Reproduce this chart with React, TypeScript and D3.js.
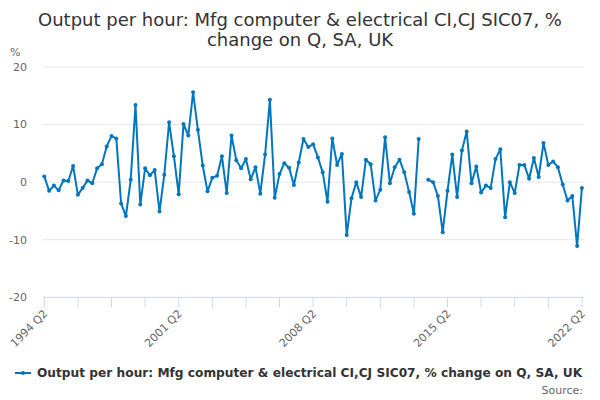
import React from "react";
import * as d3 from "d3";

const TITLE_LINES = ["Output per hour: Mfg computer & electrical CI,CJ SIC07, %", "change on Q, SA, UK"];
const SERIES_NAME = "Output per hour: Mfg computer & electrical CI,CJ SIC07, % change on Q, SA, UK";
const START_YEAR = 1994;
const START_QUARTER = 2;

const values: (number | null)[] = [
  1.0, -1.5, -0.6, -1.4, 0.3, 0.2, 2.8, -2.2, -1.0, 0.3,
  -0.2, 2.4, 3.1, 6.2, 8.0, 7.6, -3.7, -5.9, 0.4, 13.4,
  -3.9, 2.4, 1.2, 2.1, -5.1, 1.3, 10.4, 4.5, -2.1, 10.1,
  8.1, 15.6, 9.1, 2.9, -1.6, 0.75, 1.1, 4.5, -1.9, 8.1,
  3.8, 2.4, 4.0, 0.5, 2.6, -2.0, 4.8, 14.3, -2.7, 1.4,
  3.3, 2.5, -0.5, 3.4, 7.5, 6.1, 6.6, 4.3, 1.7, -3.4,
  7.6, 3.0, 4.9, -9.2, -2.8, 0.0, -2.6, 3.9, 3.1, -3.2,
  -1.3, 7.8, -0.2, 2.6, 3.9, 1.7, -1.7, -5.5, 7.5, null,
  0.4, 0.0, -2.4, -8.7, -1.5, 4.8, -2.6, 5.5, 8.8, -0.2,
  2.7, -1.8, -0.6, -1.0, 4.0, 5.7, -6.1, 0.0, -1.9, 3.0,
  3.0, 0.6, 4.2, 0.9, 6.8, 3.0, 3.6, 2.6, -0.4, -3.2,
  -2.4, -11.1, -1.0,
];

const categories: string[] = values.map((_, i) => {
  const q = START_QUARTER - 1 + i;
  return `${START_YEAR + Math.floor(q / 4)} Q${(q % 4) + 1}`;
});

const yTicks = [-20, -10, 0, 10, 20];
const TICK_EVERY = 7;
const LABEL_EVERY = 28;

const W = 600;
const H = 400;
const plotLeft = 43;
const plotRight = 584;
const plotTop = 67;
const plotBottom = 297.3;
const COLOR = "#0076bd";
const FONT = "'DejaVu Sans', Verdana, sans-serif";

export default function App() {
  const x = d3.scaleLinear().domain([0, values.length - 1]).range([44.3, 581.9]);
  const y = d3.scaleLinear().domain([-20, 20]).range([plotBottom, plotTop]);

  const line = d3
    .line<number | null>()
    .defined((d) => d != null)
    .x((_, i) => x(i))
    .y((d) => y(d as number));

  const tickIdx = d3.range(0, values.length, TICK_EVERY);

  return (
    <div style={{ position: "absolute", left: 0, top: 0 }}>
      <svg width={W} height={H} style={{ display: "block", fontFamily: FONT }}>
        <rect width={W} height={H} fill="#fff" />
        {TITLE_LINES.map((t, i) => (
          <text key={i} x={300} y={26 + i * 20} textAnchor="middle" fontSize={18} fill="#333">
            {t}
          </text>
        ))}
        <text x={10} y={56} fontSize={11} fill="#666">%</text>
        {yTicks.map((t) => (
          <g key={t}>
            {t !== -20 && (
              <line x1={plotLeft} x2={plotRight} y1={y(t)} y2={y(t)} stroke="#e6e6e6" strokeWidth={1} />
            )}
            <text x={27} y={y(t)} dy="0.35em" textAnchor="end" fontSize={11} fill="#666">
              {t}
            </text>
          </g>
        ))}
        <line x1={plotLeft} x2={plotRight} y1={plotBottom} y2={plotBottom} stroke="#ccd6eb" strokeWidth={1} />
        {tickIdx.map((i) => (
          <line key={i} x1={x(i)} x2={x(i)} y1={plotBottom} y2={plotBottom + 10} stroke="#ccd6eb" strokeWidth={1} />
        ))}
        {tickIdx
          .filter((i) => i % LABEL_EVERY === 0)
          .map((i) => (
            <text
              key={i}
              transform={`translate(${x(i) + 4},${plotBottom + 17}) rotate(-45)`}
              textAnchor="end"
              fontSize={11}
              fill="#666"
            >
              {categories[i]}
            </text>
          ))}
        <path d={line(values) || ""} fill="none" stroke={COLOR} strokeWidth={2} strokeLinejoin="round" />
        {values.map((v, i) =>
          v == null ? null : <circle key={i} cx={x(i)} cy={y(v)} r={2} fill={COLOR} />
        )}
        <g>
          <line x1={15} x2={31} y1={373} y2={373} stroke={COLOR} strokeWidth={2} />
          <circle cx={23} cy={373} r={2} fill={COLOR} />
          <text x={37} y={373} dy="0.35em" fontSize={12.2} fontWeight="bold" fill="#333">
            {SERIES_NAME}
          </text>
        </g>
        <text x={583} y={394} textAnchor="end" fontSize={11} fill="#666">Source:</text>
      </svg>
    </div>
  );
}
